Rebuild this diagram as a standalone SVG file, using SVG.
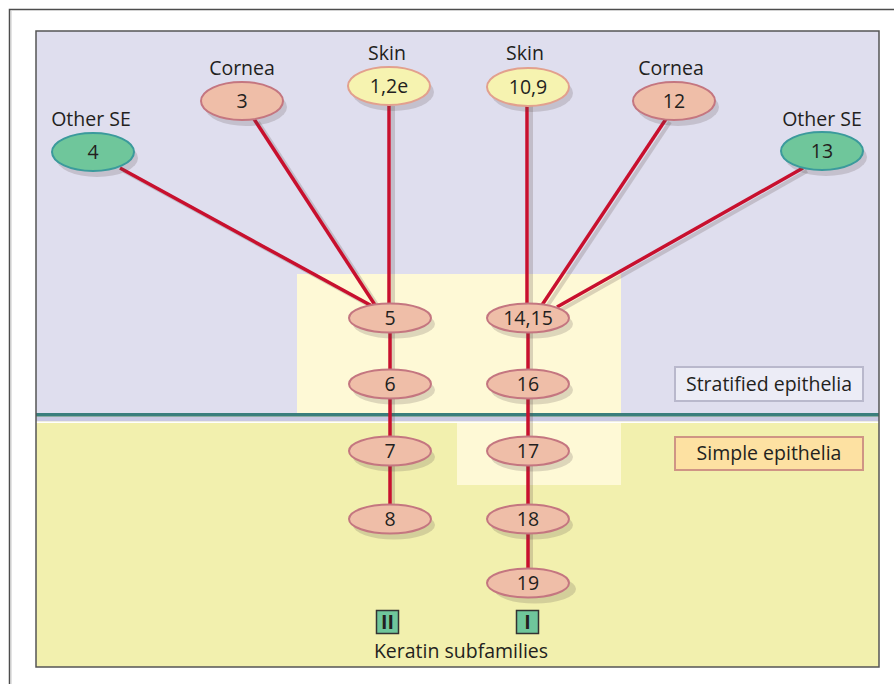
<svg xmlns="http://www.w3.org/2000/svg" width="894" height="684" viewBox="0 0 894 684">
<style>
text{font-family:"Open Sans","Noto Sans","Liberation Sans",sans-serif;font-size:19.5px;fill:#231f20;text-anchor:middle}
.red{stroke:#c8102e;stroke-width:3.5;fill:none}
.sh{stroke:#5a4a4a;stroke-opacity:0.22;stroke-width:4;fill:none}
.esh{fill:#5a4a4a;fill-opacity:0.2}
.sal{fill:#efbea8;stroke:#c47680;stroke-width:2}
.yel{fill:#f6f3b0;stroke:#e2a08e;stroke-width:2}
.grn{fill:#6fc69b;stroke:#3b9a9c;stroke-width:2}
</style>
<rect x="0" y="0" width="894" height="684" fill="#fff"/>
<path d="M9.5 684V9.5H894" fill="none" stroke="#4d4d4d" stroke-width="1.5"/>
<path d="M11 684V11" stroke="#c8c8c8" stroke-width="1"/>
<g id="panel">
<rect x="36" y="31" width="843" height="383" fill="#dfdeee"/>
<rect x="36" y="414" width="843" height="253" fill="#f2f0ae"/>
<rect x="297" y="274" width="324" height="140" fill="#fef9d6"/>
<rect x="457" y="423" width="164" height="62" fill="#fef9d6"/>
<rect x="36" y="416.5" width="843" height="5" fill="#c9c8e2"/>
<rect x="36" y="421.5" width="843" height="1.5" fill="#fff"/>
<rect x="36" y="413" width="843" height="3.5" fill="#3a7e7c"/>
<rect x="36" y="31" width="843" height="636" fill="none" stroke="#555" stroke-width="1.5"/>
</g>
<g id="connectors">
<g class="sh">
<line x1="124" y1="171" x2="376" y2="309"/>
<line x1="258" y1="122" x2="379" y2="308"/>
<line x1="393" y1="106" x2="393" y2="306"/>
<line x1="531" y1="106" x2="531" y2="306"/>
<line x1="670" y1="122" x2="546" y2="308"/>
<line x1="807" y1="171" x2="561" y2="310"/>
<line x1="393" y1="332" x2="393" y2="508"/>
<line x1="531" y1="332" x2="531" y2="570"/>
</g>
<g class="red">
<line x1="120" y1="168" x2="372" y2="306"/>
<line x1="254" y1="119" x2="375" y2="305"/>
<line x1="389" y1="104" x2="389" y2="304"/>
<line x1="527" y1="104" x2="527" y2="304"/>
<line x1="666" y1="119" x2="542" y2="305"/>
<line x1="803" y1="168" x2="557" y2="307"/>
<line x1="390" y1="330" x2="390" y2="508"/>
<line x1="528" y1="330" x2="528" y2="572"/>
</g>
</g>
<g id="n4"><text x="91" y="126">Other SE</text><ellipse class="esh" cx="97" cy="158" rx="41" ry="19"/><ellipse class="grn" cx="93" cy="152" rx="41" ry="19"/><text x="93" y="159">4</text></g>
<g id="n3"><text x="242" y="75">Cornea</text><ellipse class="esh" cx="246" cy="107" rx="41" ry="19"/><ellipse class="sal" cx="242" cy="101" rx="41" ry="19"/><text x="242" y="108">3</text></g>
<g id="n12e"><text x="387" y="60">Skin</text><ellipse class="esh" cx="393" cy="92" rx="41" ry="19"/><ellipse class="yel" cx="389" cy="86" rx="41" ry="19"/><text x="389" y="93">1,2e</text></g>
<g id="n109"><text x="525" y="60">Skin</text><ellipse class="esh" cx="532" cy="93" rx="41" ry="19"/><ellipse class="yel" cx="528" cy="87" rx="41" ry="19"/><text x="528" y="94">10,9</text></g>
<g id="n12"><text x="671" y="75">Cornea</text><ellipse class="esh" cx="678" cy="107" rx="41" ry="19"/><ellipse class="sal" cx="674" cy="101" rx="41" ry="19"/><text x="674" y="108">12</text></g>
<g id="n13"><text x="822" y="126">Other SE</text><ellipse class="esh" cx="826" cy="157" rx="41" ry="19"/><ellipse class="grn" cx="822" cy="151" rx="41" ry="19"/><text x="822" y="158">13</text></g>
<g id="n5"><ellipse class="esh" cx="394" cy="324" rx="41" ry="14.5"/><ellipse class="sal" cx="390" cy="318" rx="41" ry="14.5"/><text x="390" y="325">5</text></g>
<g id="n1415"><ellipse class="esh" cx="532" cy="324" rx="41" ry="14.5"/><ellipse class="sal" cx="528" cy="318" rx="41" ry="14.5"/><text x="528" y="325">14,15</text></g>
<g id="n6"><ellipse class="esh" cx="394" cy="390" rx="41" ry="14.5"/><ellipse class="sal" cx="390" cy="384" rx="41" ry="14.5"/><text x="390" y="391">6</text></g>
<g id="n16"><ellipse class="esh" cx="532" cy="390" rx="41" ry="14.5"/><ellipse class="sal" cx="528" cy="384" rx="41" ry="14.5"/><text x="528" y="391">16</text></g>
<g id="n7"><ellipse class="esh" cx="394" cy="457" rx="41" ry="14.5"/><ellipse class="sal" cx="390" cy="451" rx="41" ry="14.5"/><text x="390" y="458">7</text></g>
<g id="n17"><ellipse class="esh" cx="532" cy="457" rx="41" ry="14.5"/><ellipse class="sal" cx="528" cy="451" rx="41" ry="14.5"/><text x="528" y="458">17</text></g>
<g id="n8"><ellipse class="esh" cx="394" cy="525" rx="41" ry="14.5"/><ellipse class="sal" cx="390" cy="519" rx="41" ry="14.5"/><text x="390" y="526">8</text></g>
<g id="n18"><ellipse class="esh" cx="532" cy="525" rx="41" ry="14.5"/><ellipse class="sal" cx="528" cy="519" rx="41" ry="14.5"/><text x="528" y="526">18</text></g>
<g id="n19"><ellipse class="esh" cx="535" cy="589" rx="41" ry="14.5"/><ellipse class="sal" cx="528" cy="583" rx="41" ry="14.5"/><text x="528" y="590">19</text></g>
<g id="legend-stratified"><rect x="675" y="367" width="188" height="34" fill="#ececf6" stroke="#b9b8cc" stroke-width="2"/><text x="769" y="391">Stratified epithelia</text></g>
<g id="legend-simple"><rect x="675" y="437" width="188" height="33" fill="#fde1a2" stroke="#cf9585" stroke-width="2"/><text x="769" y="460">Simple epithelia</text></g>
<g id="subfamilies">
<rect x="376.5" y="610.5" width="22" height="23" fill="#6fc69b" stroke="#333" stroke-width="1.5"/><text x="387.5" y="629" style="font-weight:bold">II</text>
<rect x="516.5" y="610.5" width="22" height="23" fill="#6fc69b" stroke="#333" stroke-width="1.5"/><text x="527.5" y="629" style="font-weight:bold">I</text>
<text x="461" y="658">Keratin subfamilies</text>
</g>
</svg>
